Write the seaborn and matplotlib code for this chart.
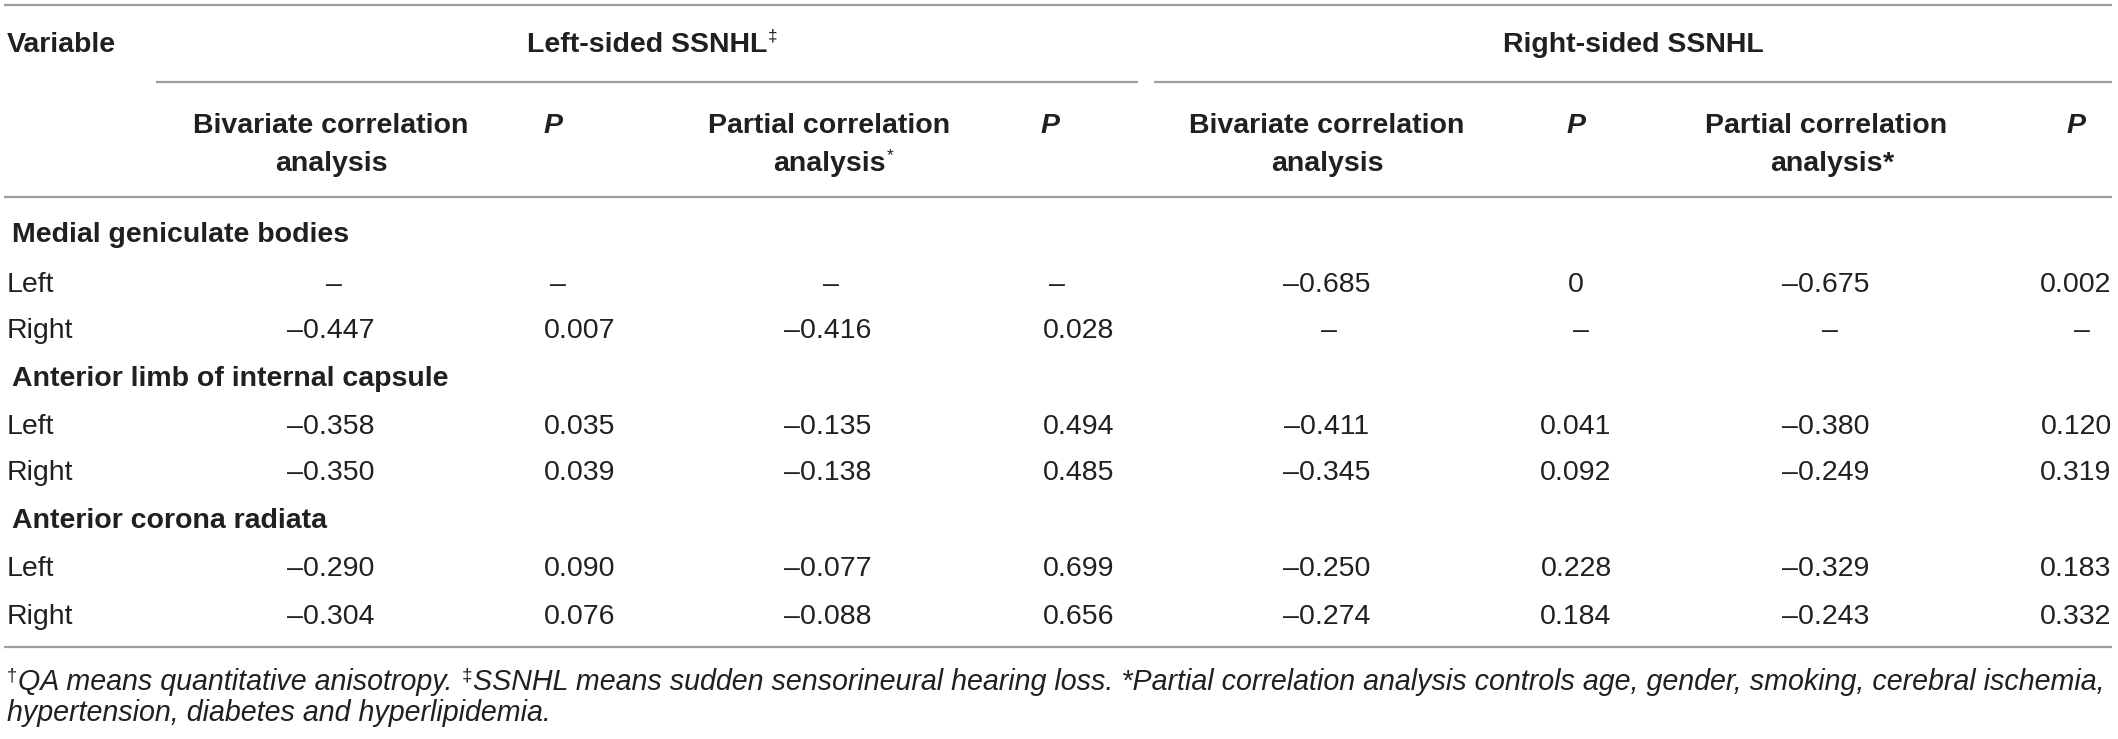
import matplotlib
matplotlib.use("Agg")
import matplotlib.pyplot as plt
import seaborn as sns

# ---------------- data ----------------
groups = ["Medial geniculate bodies", "Anterior limb of internal capsule", "Anterior corona radiata"]
sides = ["Left", "Right"]

left_biv = [None, -0.447, -0.358, -0.350, -0.290, -0.304]
left_biv_p = [None, 0.007, 0.035, 0.039, 0.090, 0.076]
left_part = [None, -0.416, -0.135, -0.138, -0.077, -0.088]
left_part_p = [None, 0.028, 0.494, 0.485, 0.699, 0.656]
right_biv = [-0.685, None, -0.411, -0.345, -0.250, -0.274]
right_biv_p = [0, None, 0.041, 0.092, 0.228, 0.184]
right_part = [-0.675, None, -0.380, -0.249, -0.329, -0.243]
right_part_p = [0.002, None, 0.120, 0.319, 0.183, 0.332]

group_titles = ["Left-sided SSNHL", "Right-sided SSNHL"]
sub_headers = [("Bivariate correlation", "analysis"), ("P", ""), ("Partial correlation", "analysis"), ("P", "")]

footnote_1 = [("†", "sup"), ("QA means quantitative anisotropy.", "it"), (" ", "gap"), ("‡", "sup"),
              ("SSNHL means sudden sensorineural hearing loss. *Partial correlation analysis controls age, gender, smoking, cerebral ischemia,", "it")]
footnote_2 = "hypertension, diabetes and hyperlipidemia."

# ---------------- style ----------------
sns.set_theme(style="white")
plt.rcParams['font.family'] = ['Liberation Sans', 'DejaVu Sans']
TXT = "#231f20"
LINE = "#9d9d9d"
FS = 20.5
FS_FOOT = 20.6

W, H = 2118, 739
fig = plt.figure(figsize=(W / 100, H / 100), dpi=100)
ax = fig.add_axes([0, 0, 1, 1])
ax.set_xlim(0, W)
ax.set_ylim(H, 0)
ax.axis("off")
renderer = fig.canvas.get_renderer()


def right_edge(t):
    bb = t.get_window_extent(renderer)
    return ax.transData.inverted().transform((bb.x1, bb.y0))[0]


def fmt(v):
    if v is None:
        return "–"
    if v == 0:
        return "0"
    s = f"{abs(v):.3f}"
    return ("–" + s) if v < 0 else s


# rules
ax.hlines(5, 4, 2112, color=LINE, lw=1.6)
ax.hlines(82, 156, 1138, color=LINE, lw=1.6)
ax.hlines(82, 1154, 2112, color=LINE, lw=1.6)
ax.hlines(197, 4, 2112, color=LINE, lw=1.6)
ax.hlines(647, 4, 2112, color=LINE, lw=1.6)

# header row
ax.text(7, 52, "Variable", fontsize=FS, fontweight="bold", color=TXT, ha="left", va="baseline")
group_centers = [647, 1633]
for gi, (title, cx) in enumerate(zip(group_titles, group_centers)):
    t = ax.text(cx, 52, title, fontsize=FS, fontweight="bold", color=TXT, ha="center", va="baseline")
    if gi == 0:
        ax.text(right_edge(t) + 1, 41, "‡", fontsize=FS * 0.6, color=TXT, ha="left", va="baseline")

# column layout: (header x, number x, dash x)
cols = [
    (331, 331, 334), (553, 580, 558), (829, 828, 831), (1050, 1079, 1057),
    (1327, 1327, 1329), (1576, 1576, 1581), (1826, 1826, 1830), (2076, 2076, 2082),
]
for ci, (hx, nx, dx) in enumerate(cols):
    l1, l2 = sub_headers[ci % 4]
    if l1 == "P":
        ax.text(hx, 133, "P", fontsize=FS, fontweight="bold", fontstyle="italic", color=TXT,
                ha="center", va="baseline")
    else:
        ax.text(hx, 133, l1, fontsize=FS, fontweight="bold", color=TXT, ha="center", va="baseline")
        t2 = ax.text(hx, 171, l2, fontsize=FS, fontweight="bold", color=TXT, ha="center", va="baseline")
        if l1.startswith("Partial"):
            if ci < 4:
                ax.text(right_edge(t2) + 1, 160, "*", fontsize=FS * 0.6, color=TXT, ha="left", va="baseline")
            else:
                ax.text(right_edge(t2) + 1, 171, "*", fontsize=FS, fontweight="bold", color=TXT,
                        ha="left", va="baseline")

# body rows
group_y = [232, 375, 517]
row_y = [282, 328, 423, 470, 566, 613]
columns = [left_biv, left_biv_p, left_part, left_part_p, right_biv, right_biv_p, right_part, right_part_p]

for g, gy in zip(groups, group_y):
    ax.text(12, gy + 10.5, g, fontsize=FS, fontweight="bold", color=TXT, ha="left", va="baseline")

for ri, ry in enumerate(row_y):
    ax.text(7, ry + 10.5, sides[ri % 2], fontsize=FS, color=TXT, ha="left", va="baseline")
    for ci, col in enumerate(columns):
        v = col[ri]
        hx, nx, dx = cols[ci]
        x = dx if v is None else nx
        ax.text(x, ry + 10.5, fmt(v), fontsize=FS, color=TXT, ha="center", va="baseline")

# footnotes
x = 7
for txt, kind in footnote_1:
    if kind == "gap":
        x += 8
        continue
    if kind == "sup":
        t = ax.text(x, 680, txt, fontsize=FS_FOOT * 0.65, color=TXT, ha="left", va="baseline")
    else:
        t = ax.text(x, 690, txt, fontsize=FS_FOOT, fontstyle="italic", color=TXT, ha="left", va="baseline")
    x = right_edge(t) + 1
ax.text(7, 721, footnote_2, fontsize=FS_FOOT, fontstyle="italic", color=TXT, ha="left", va="baseline")

fig.savefig("out.png", dpi=100, facecolor="white")
